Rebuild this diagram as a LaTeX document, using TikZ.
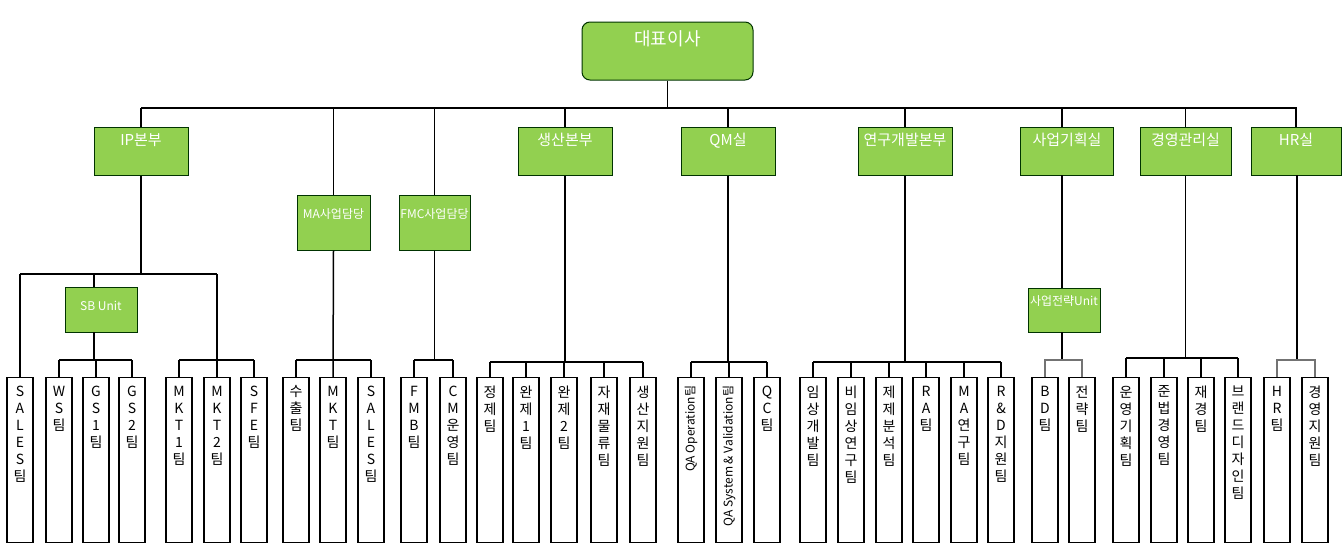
\documentclass[tikz,border=0pt]{standalone}
\usepackage{fontspec}
\setmainfont{Noto Sans CJK KR}
\begin{document}
\begin{tikzpicture}[x=1pt,y=-1pt,line width=1.5pt,
  gbox/.style={draw=black!80!green,fill=green1,line width=1pt,inner sep=0},
  leaf/.style={draw,line width=1.4pt,fill=white,minimum width=26,minimum height=165,anchor=north,inner sep=0},
  lt/.style={anchor=north,align=center,font=\fontsize{14}{17}\selectfont,inner sep=0,yshift=-8},
  gt/.style={anchor=north,text=white,inner sep=0,font=\fontsize{15}{18}\selectfont}]
\definecolor{green1}{HTML}{92D050}
\useasboundingbox (0,0) rectangle (1344,555);
\fill[white] (0,0) rectangle (1344,555);
% top
\node[gbox,rounded corners=8,minimum width=171,minimum height=58] (ceo) at (667.5,51) {};
\node[gt,font=\fontsize{18}{20}\selectfont] at (667.5,30) {대표이사};
% level 2
\newcommand\gb[5]{\node[gbox,minimum width=#3,minimum height=#4] (#1) at (#2) {};\node[gt] at (#1.north) [yshift=-6] {#5};}
\gb{ip}{141,151}{94}{48}{IP본부}
\gb{pr}{565,151}{94}{48}{생산본부}
\gb{qm}{728,151}{94}{48}{QM실}
\gb{rd}{905,151}{94}{48}{연구개발본부}
\gb{bp}{1067,151}{93}{48}{사업기획실}
\gb{mg}{1185.5,151}{91}{48}{경영관리실}
\gb{hr}{1296,151}{90}{48}{HR실}
\node[gbox,minimum width=73,minimum height=55] (ma) at (333.5,222.5) {};
\node[gt,font=\fontsize{12}{14}\selectfont] at (ma.north) [yshift=-13] {MA사업담당};
\node[gbox,minimum width=71,minimum height=55] (fmc) at (434.5,222.5) {};
\node[gt,font=\fontsize{12}{14}\selectfont] at (fmc.north) [yshift=-13] {FMC사업담당};
\node[gbox,minimum width=72,minimum height=45] (sb) at (101,309.5) {};
\node[gt,font=\fontsize{12}{14}\selectfont] at (sb.north) [yshift=-14] {SB Unit};
\node[gbox,minimum width=72,minimum height=44] (su) at (1064,310) {};
\node[gt,font=\fontsize{12}{14}\selectfont] at (su.north) [yshift=-7] {사업전략Unit};
% leaves
\newcommand\lf[3]{\node[leaf] (#1) at (#2,377) {};\node[lt] at (#1.north) {#3};}
\lf{l1}{20}{S\\A\\L\\E\\S\\팀}
\lf{l2}{59}{W\\S\\팀}
\lf{l3}{96}{G\\S\\1\\팀}
\lf{l4}{132}{G\\S\\2\\팀}
\lf{l5}{179}{M\\K\\T\\1\\팀}
\lf{l6}{217}{M\\K\\T\\2\\팀}
\lf{l7}{254}{S\\F\\E\\팀}
\lf{l8}{296}{수\\출\\팀}
\lf{l9}{333}{M\\K\\T\\팀}
\lf{l10}{371}{S\\A\\L\\E\\S\\팀}
\lf{l11}{414}{F\\M\\B\\팀}
\lf{l12}{453}{C\\M\\운\\영\\팀}
\lf{l13}{490}{정\\제\\팀}
\lf{l14}{526}{완\\제\\1\\팀}
\lf{l15}{564}{완\\제\\2\\팀}
\lf{l16}{604}{자\\재\\물\\류\\팀}
\lf{l17}{643}{생\\산\\지\\원\\팀}
\node[leaf] (l18) at (691,377) {};
\node[anchor=east,rotate=90,font=\fontsize{12}{14}\selectfont,inner sep=0] at ([yshift=-8]l18.north) {QA Operation팀};
\node[leaf] (l19) at (729,377) {};
\node[anchor=east,rotate=90,font=\fontsize{12}{14}\selectfont,inner sep=0] at ([yshift=-8]l19.north) {QA System \& Validation팀};
\lf{l20}{767}{Q\\C\\팀}
\lf{l21}{813}{임\\상\\개\\발\\팀}
\lf{l22}{851}{비\\임\\상\\연\\구\\팀}
\lf{l23}{889}{제\\제\\분\\석\\팀}
\lf{l24}{926}{R\\A\\팀}
\lf{l25}{964}{M\\A\\연\\구\\팀}
\lf{l26}{1001}{R\\\&\\D\\지\\원\\팀}
\lf{l27}{1045}{B\\D\\팀}
\lf{l28}{1082}{전\\략\\팀}
\lf{l29}{1126}{운\\영\\기\\획\\팀}
\lf{l30}{1164}{준\\법\\경\\영\\팀}
\lf{l31}{1201}{재\\경\\팀}
\lf{l32}{1238}{브\\랜\\드\\디\\자\\인\\팀}
\lf{l33}{1277}{H\\R\\팀}
\lf{l34}{1315}{경\\영\\지\\원\\팀}
% connectors
\coordinate (b0) at (0,108);
\draw (ip.north |- b0) -- (1297,108);
\foreach \n in {ip,pr,qm,rd,mg,hr} \draw (\n.north |- b0) -- (\n.north);
\draw (ceo.south) -- (ceo.south |- b0);
\draw (ma.north |- b0) -- (ma.north);
\draw (fmc.north |- b0) -- (fmc.north);
\draw (1062,108) -- (1062,127);
% IP
\coordinate (b1) at (0,274);
\draw (ip.south) -- (ip.south |- b1);
\draw (l1.north |- b1) -- (l6.north |- b1);
\draw (l1.north |- b1) -- (l1.north);
\draw (sb.north -| 94,0) -- (94,274);
\draw (l6.north |- b1) -- (l6.north);
\coordinate (b2) at (0,360);
\draw (94,332) -- (94,360);
\draw (l2.north |- b2) -- (l4.north |- b2);
\foreach \n in {l2,l3,l4} \draw (\n.north |- b2) -- (\n.north);
\draw (l5.north |- b2) -- (l7.north |- b2);
\foreach \n in {l5,l7} \draw (\n.north |- b2) -- (\n.north);
% MA
\draw (ma.south) -- (l9.north);
\draw (l8.north |- b2) -- (l10.north |- b2);
\foreach \n in {l8,l10} \draw (\n.north |- b2) -- (\n.north);
% FMC
\draw (fmc.south) -- (fmc.south |- b2);
\draw (l11.north |- b2) -- (l12.north |- b2);
\foreach \n in {l11,l12} \draw (\n.north |- b2) -- (\n.north);
% production
\coordinate (b3) at (0,362);
\draw (pr.south) -- (pr.south |- b3);
\draw (l13.north |- b3) -- (l17.north |- b3);
\foreach \n in {l13,l14,l15,l16,l17} \draw (\n.north |- b3) -- (\n.north);
\draw (qm.south) -- (qm.south |- b3);
\draw (l18.north |- b3) -- (l20.north |- b3);
\foreach \n in {l18,l19,l20} \draw (\n.north |- b3) -- (\n.north);
\draw (rd.south) -- (rd.south |- b3);
\draw (l21.north |- b3) -- (l26.north |- b3);
\foreach \n in {l21,l22,l23,l24,l25,l26} \draw (\n.north |- b3) -- (\n.north);
% business planning
\draw (1062,175) -- (1062,288);
\draw (1062,332) -- (1062,360);
\draw[black!55,line width=2pt] (l27.north) |- (l28.north |- b2) -- (l28.north);
\coordinate (b4) at (0,358);
\draw (mg.south) -- (mg.south |- b4);
\draw (l29.north |- b4) -- (l32.north |- b4);
\foreach \n in {l29,l30,l31,l32} \draw (\n.north |- b4) -- (\n.north);
\draw (1297,175) -- (1297,360);
\draw[black!55,line width=2pt] (l33.north) |- (l34.north |- b2) -- (l34.north);
\end{tikzpicture}
\end{document}
